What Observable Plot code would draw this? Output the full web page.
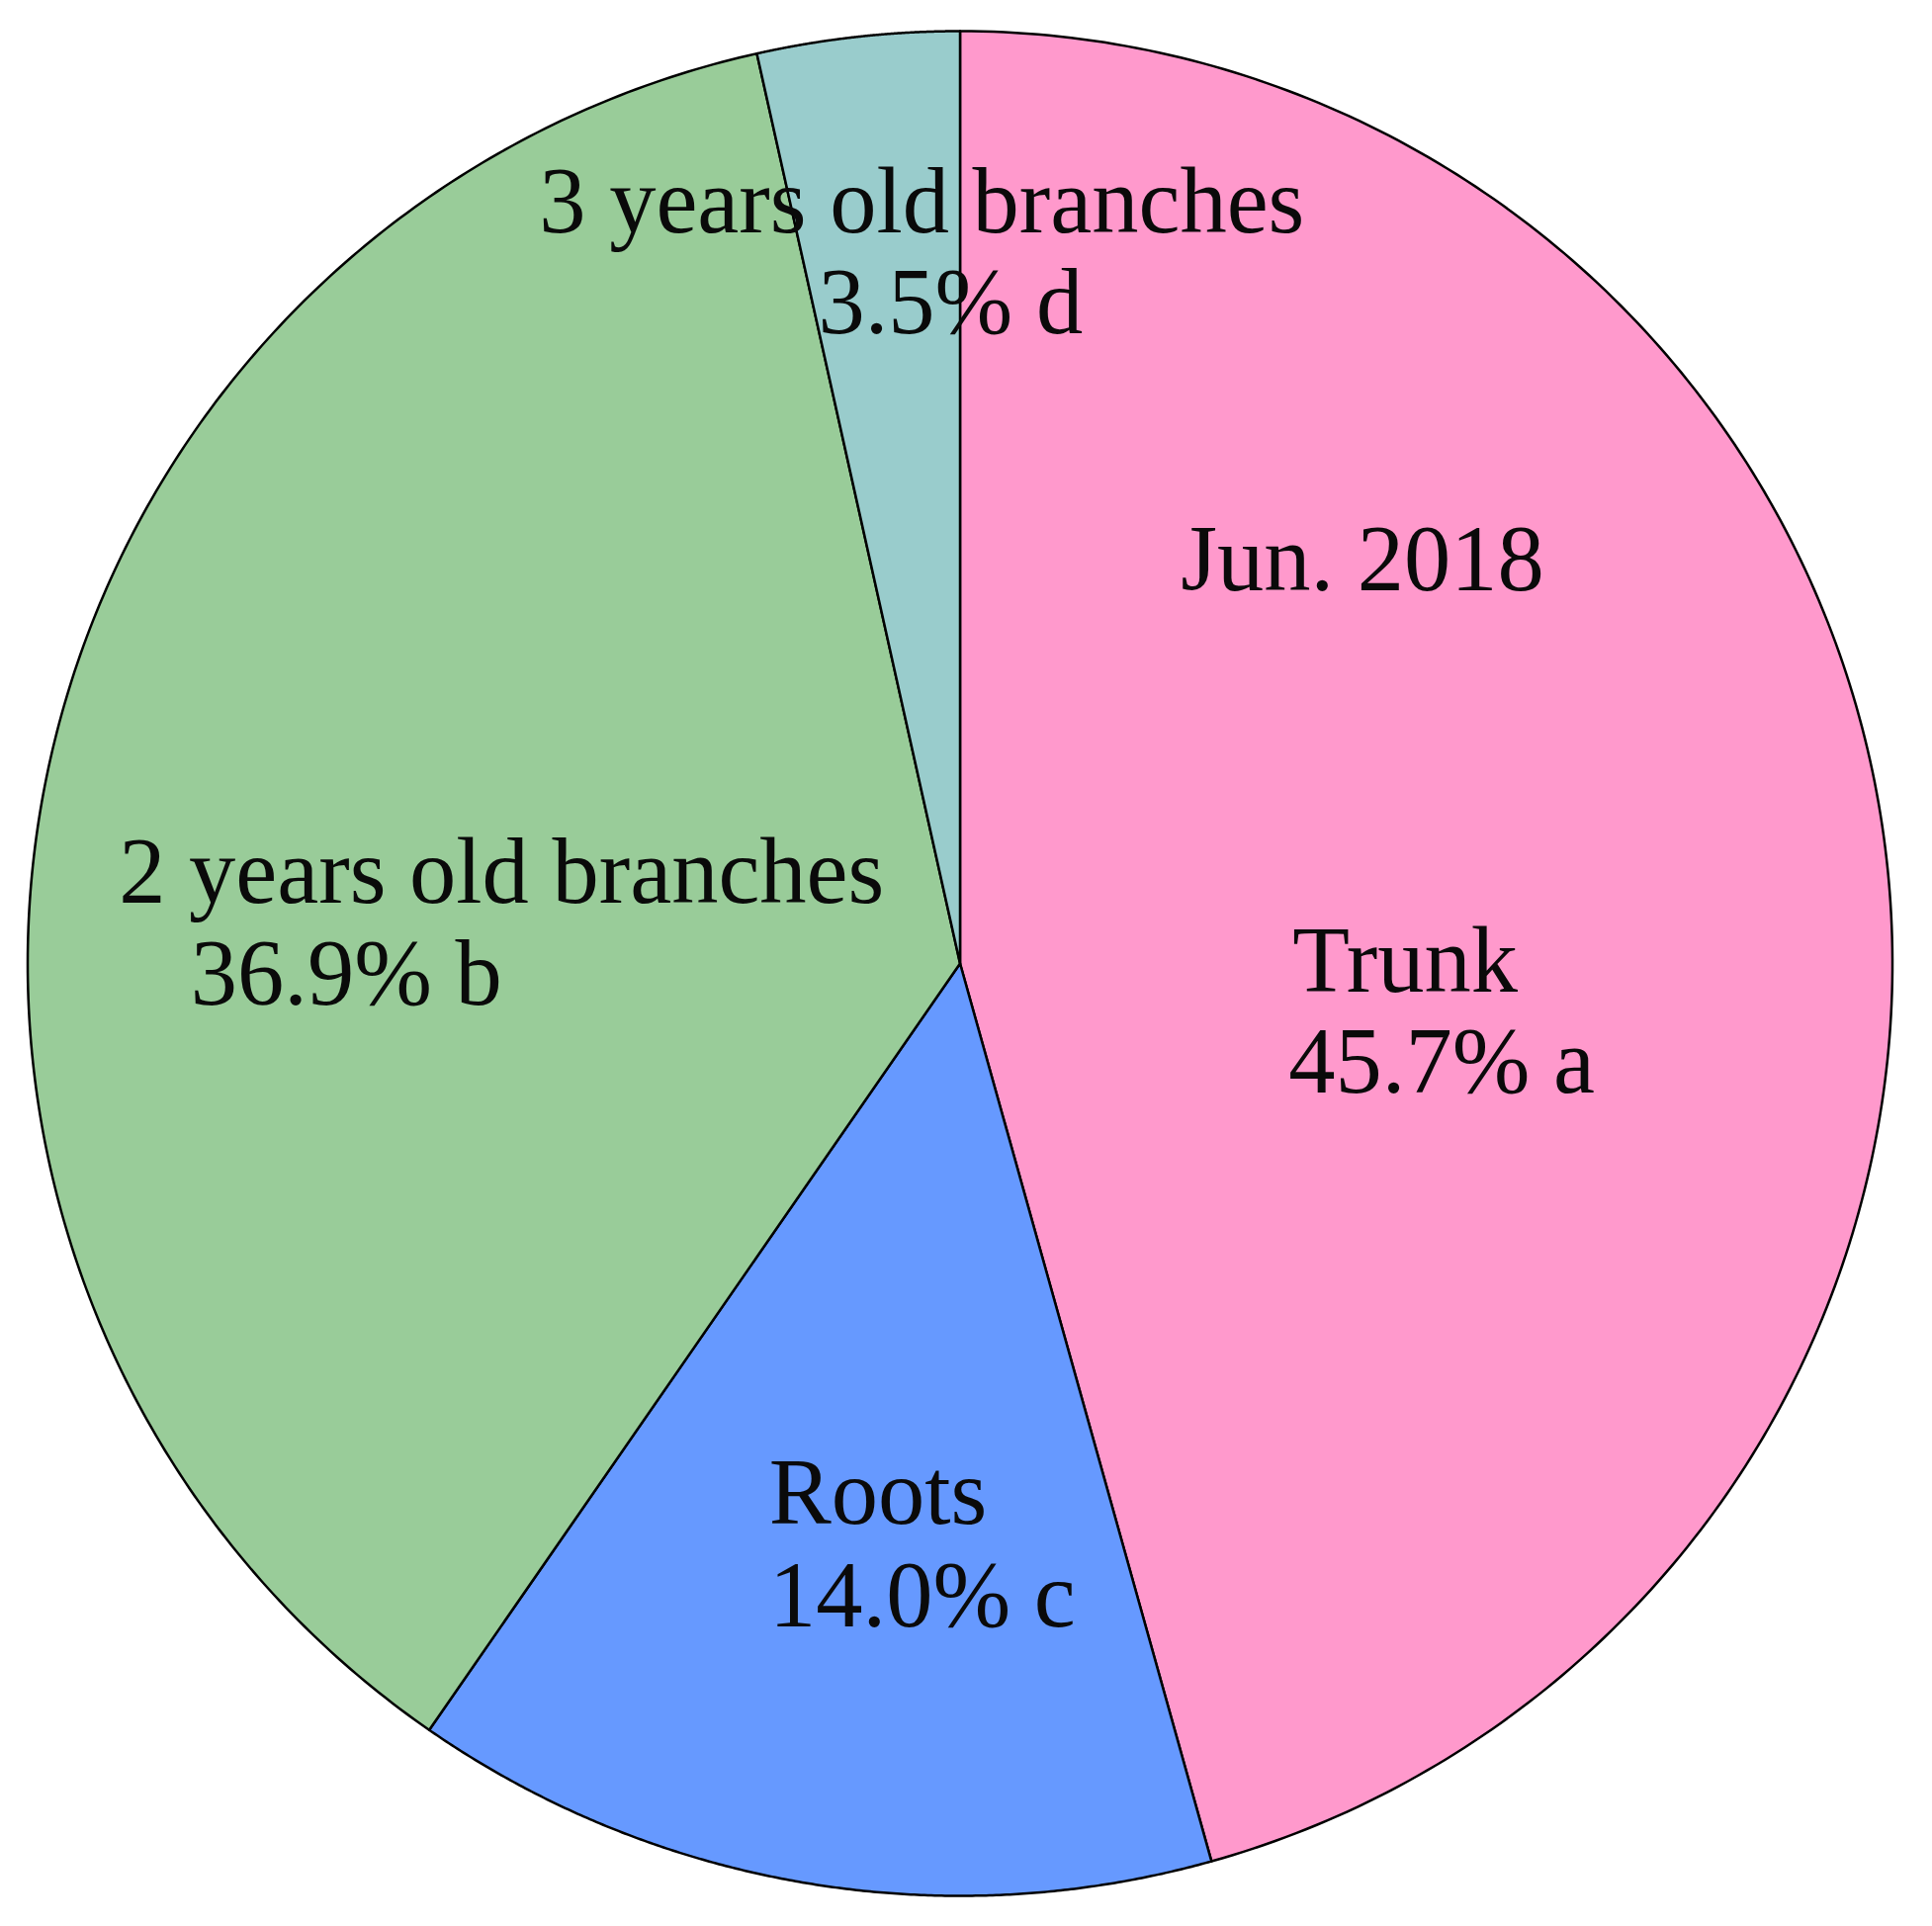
<!DOCTYPE html>
<html>
<head>
<meta charset="utf-8">
<script src="https://cdn.jsdelivr.net/npm/d3@7"></script>
<script src="https://cdn.jsdelivr.net/npm/@observablehq/plot@0.6"></script>
<style>
  html, body { margin: 0; padding: 0; background: #ffffff; }
  #chart svg { display: block; background: #ffffff; }
</style>
</head>
<body>
<div id="chart"></div>
<script>
// ---- data ----
const parts   = ["Trunk", "Roots", "2 years old branches", "3 years old branches"];
const shares  = [45.7, 14.0, 36.9, 3.5];
const letters = ["a", "c", "b", "d"];
const sampleLabel = "Jun. 2018";

// ---- styles ----
const colors = ["#ff99cc", "#6699ff", "#99cc99", "#99cccc"];
// pixel nudges of the two label lines from the point halfway along each slice's mid-angle
const nameNudge = [[-17, 93], [-5, 102], [-1, 29], [13, -271]];
const pctNudge  = [[20, 195], [40, 206], [-158, 132], [42, -169]];
const FONT = "Liberation Serif, Times New Roman, serif";
const FS = 94.5;

// ---- geometry from data ----
const table = parts.map((p, i) => ({part: p, share: shares[i], letter: letters[i], color: colors[i], i}));
const arcs = d3.pie().sort(null).value(d => d.share)(table);

const N = 240;
const slices = arcs.map(a => {
  const pts = [{x: 0, y: 0}];
  for (let k = 0; k <= N; k++) {
    const t = a.startAngle + (a.endAngle - a.startAngle) * k / N;
    pts.push({x: Math.sin(t), y: Math.cos(t)});
  }
  return {color: a.data.color, pts};
});

const labels = arcs.map(a => {
  const m = (a.startAngle + a.endAngle) / 2;
  const i = a.data.i;
  return {
    x: 0.5 * Math.sin(m), y: 0.5 * Math.cos(m),
    name: a.data.part,
    pct: `${a.data.share.toFixed(1)}% ${a.data.letter}`,
    i
  };
});

const marks = [];
for (const s of slices) {
  marks.push(Plot.line(s.pts, {x: "x", y: "y", fill: s.color, stroke: "#000", strokeWidth: 2.5, curve: "linear-closed"}));
}
for (const l of labels) {
  marks.push(Plot.text([l], {x: "x", y: "y", text: "name", dx: nameNudge[l.i][0], dy: nameNudge[l.i][1],
    lineAnchor: "bottom", textAnchor: "middle", fontFamily: FONT, fontSize: FS, fill: "#0a0a0a"}));
  marks.push(Plot.text([l], {x: "x", y: "y", text: "pct", dx: pctNudge[l.i][0], dy: pctNudge[l.i][1],
    lineAnchor: "bottom", textAnchor: "middle", fontFamily: FONT, fontSize: FS, fill: "#0a0a0a"}));
}
marks.push(Plot.text([sampleLabel], {frameAnchor: "middle", dx: 407, dy: -378, lineAnchor: "bottom",
  textAnchor: "middle", fontFamily: FONT, fontSize: FS, fill: "#0a0a0a"}));

const chart = Plot.plot({
  width: 1954,
  height: 1948,
  marginLeft: 27.5,
  marginRight: 40.5,
  marginTop: 31,
  marginBottom: 31,
  x: {domain: [-1, 1], axis: null},
  y: {domain: [-1, 1], axis: null},
  style: {background: "#ffffff", fontFamily: FONT},
  marks
});
document.getElementById("chart").appendChild(chart);
</script>
</body>
</html>
